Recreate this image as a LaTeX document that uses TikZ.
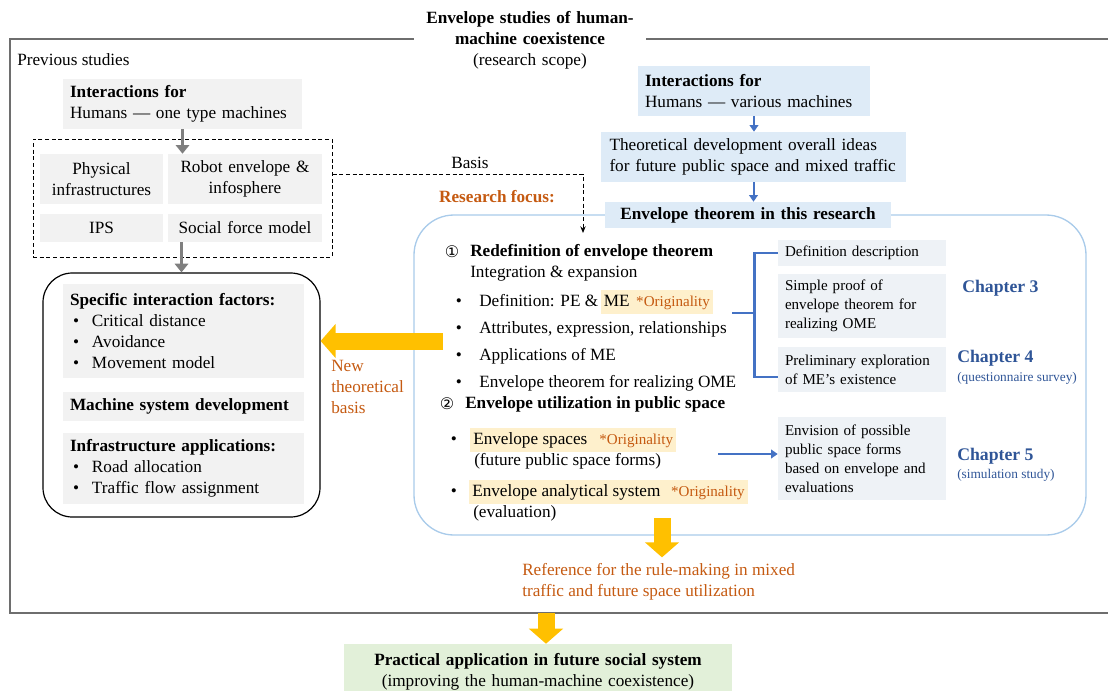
\documentclass[tikz,border=0pt]{standalone}
\usepackage{fontspec}
\setmainfont{Liberation Serif}
\newfontfamily\circfont{DejaVu Sans}
\usetikzlibrary{arrows.meta}

\definecolor{boxgray}{HTML}{F2F2F2}
\definecolor{boxblue}{HTML}{DEEBF7}
\definecolor{boxpale}{HTML}{EEF2F6}
\definecolor{boxgreen}{HTML}{E2F0D9}
\definecolor{hilite}{HTML}{FEF0CC}
\definecolor{accent}{HTML}{C55A11}
\definecolor{chapblue}{HTML}{2F5597}
\definecolor{linkblue}{HTML}{4472C4}
\definecolor{framblue}{HTML}{A9CBEA}
\definecolor{gold}{HTML}{FFC000}
\definecolor{arrowgray}{HTML}{7F7F7F}
\definecolor{framegray}{HTML}{6E6E6E}

% bullet with a small indent, as in the item lists
\newcommand\bitem{\hspace*{2.25pt}\makebox[14.25pt][l]{\textbullet}}
% orange originality tag
\newcommand\origtag[1]{{\fontsize{11.3}{14}\selectfont\color{accent}#1}}

\begin{document}
\begin{tikzpicture}[x=0.75pt,y=-0.75pt,
  txt/.style={font=\fontsize{12.9}{15.75}\selectfont, inner sep=0pt},
  oneline/.style={txt, text height=9.1pt, text depth=2.8pt},
  small/.style={font=\fontsize{11.3}{14.25}\selectfont, inner sep=0pt},
  area/.style n args={4}{at={({(#1+#3)/2},{(#2+#4)/2})},
     minimum width={(#3-#1)*0.75pt}, minimum height={(#4-#2)*0.75pt},
     text width={(#3-#1-14)*0.75pt}, inner xsep=5.25pt, inner ysep=0pt},
  hlbox/.style={oneline, fill=hilite, inner xsep=2.25pt},
  chap/.style={oneline, anchor=west, text=chapblue,
     font=\fontsize{13.3}{15}\selectfont\bfseries},
  chapnote/.style={inner sep=0pt, anchor=west, text=chapblue,
     font=\fontsize{10}{12}\selectfont},
  circnum/.style={inner sep=0pt, font=\circfont\fontsize{12}{14}\selectfont},
  frameline/.style={draw=framegray, line width=1.1pt},
  grayarr/.style={draw=arrowgray, line width=2.4pt,
     -{Triangle[length=6.5pt,width=10pt]}},
  bluearr/.style={draw=linkblue, line width=1.5pt,
     -{Triangle[length=5pt,width=6.5pt]}},
  yarr/.style={draw=gold, line width=12.75pt,
     -{Triangle[length=11.25pt,width=25pt]}},
  dasharr/.style={draw=black, line width=0.75pt, dash pattern=on 3pt off 2pt,
     -{Stealth[length=5pt,width=4pt]}},
  chapterlink/.style={draw=linkblue, line width=1.9pt},
]
\useasboundingbox (0,0) rectangle (1108,690);

% ---------- outer frame of the research scope ----------
\draw[frameline] (1108,39) -- (10,39) -- (10,613) -- (1108,613);
\node[txt, fill=white, area={414}{4}{646}{77}, align=center] (scope)
  {\textbf{Envelope studies of human-}\\\textbf{machine coexistence}\\(research scope)};

% ---------- previous studies ----------
\node[oneline, anchor=west] (prev) at (17,61) {Previous studies};
\node[txt, fill=boxgray, area={63}{79}{302}{129}, align=left] (inter1)
  {\textbf{Interactions for}\\Humans — one type machines};

\node[draw=black, line width=0.75pt, dash pattern=on 3pt off 2pt,
      area={33}{139}{332}{257}] (basisgrp) {};
\node[txt, fill=boxgray, area={40}{154}{163}{204}, align=center] (phys)
  {Physical\\infrastructures};
\node[txt, fill=boxgray, area={168}{154}{322}{204}, align=center] (robot)
  {Robot envelope \&\\infosphere};
\node[txt, fill=boxgray, area={40}{214}{163}{242}, align=center] (ips) {IPS};
\node[txt, fill=boxgray, area={168}{214}{322}{242}, align=center] (sfm)
  {Social force model};
\draw[grayarr] (inter1.south) -- (inter1.south |- phys.north);

\node[draw=black, line width=0.9pt, rounded corners=22pt,
      area={43}{273}{320}{517}] (apps) {};
\draw[grayarr] (apps.north |- sfm.south) -- (apps.north);
\node[txt, fill=boxgray, area={63}{284}{304}{378}, align=left] (factors)
  {\textbf{Specific interaction factors:}\\\bitem Critical distance\\
   \bitem Avoidance\\\bitem Movement model};
\node[txt, fill=boxgray, area={63}{392}{304}{421}, align=left] (msd)
  {\textbf{Machine system development}};
\node[txt, fill=boxgray, area={63}{433}{304}{504}, align=left] (infra)
  {\textbf{Infrastructure applications:}\\\bitem Road allocation\\
   \bitem Traffic flow assignment};

% ---------- this research ----------
\node[draw=framblue, line width=1pt, rounded corners=30pt,
      area={414}{215}{1086}{535}] (focus) {};

\node[txt, fill=boxblue, area={638}{66}{870}{116}, align=left] (inter2)
  {\textbf{Interactions for}\\Humans — various machines};
\node[txt, fill=boxblue, area={601}{132}{906}{182}, inner xsep=6pt,
      text width=216pt, align=left] (theo)
  {Theoretical development overall ideas\\for future public space and mixed traffic};
\node[txt, fill=boxblue, area={605}{202}{891}{228}, align=center] (envthm)
  {\textbf{Envelope theorem in this research}};
\draw[bluearr] (inter2.south) -- (inter2.south |- theo.north);
\draw[bluearr] (theo.south) -- (theo.south |- envthm.north);

% basis link from previous studies
\coordinate (basisend) at (583,233);
\draw[dasharr] (basisgrp.east |- 0,174) -| (basisend);
\node[oneline] (basislbl) at (470,164) {Basis};
\node[oneline, text=accent, font=\fontsize{12.9}{15.75}\selectfont\bfseries]
  (focuslbl) at (497,198) {Research focus:};

% new theoretical basis back to previous studies
\coordinate (ysrc) at (443,341);
\draw[yarr] (ysrc) -- (ysrc -| apps.east);
\node[txt, text=accent, anchor=west, align=left] (newbasis) at (331,387)
  {New\\theoretical\\basis};

% part 1: redefinition
\node[circnum] (c1) at (452,252) {①};
\node[oneline, anchor=west] (redef) at (470,252)
  {\textbf{Redefinition of envelope theorem}};
\node[oneline, anchor=west] (integ) at (470,273) {Integration \& expansion};

\node[oneline] (b1) at (459,302) {\textbullet};
\node[oneline, anchor=west] (t1) at (479,302) {Definition: PE \&};
\node[hlbox, inner ysep=3.4pt, anchor=west] (h1) at ([xshift=1.5pt]t1.east)
  {ME\hspace{5pt}\origtag{*Originality}};
\node[oneline] (b2) at (459,329) {\textbullet};
\node[oneline, anchor=west] (t2) at (479,329) {Attributes, expression, relationships};
\node[oneline] (b3) at (459,356) {\textbullet};
\node[oneline, anchor=west] (t3) at (479,356) {Applications of ME};
\node[oneline] (b4) at (459,383) {\textbullet};
\node[oneline, anchor=west] (t4) at (479,383) {Envelope theorem for realizing OME};

% part 2: utilization
\node[circnum] (c2) at (447,404) {②};
\node[oneline, anchor=west] (util) at (465,404)
  {\textbf{Envelope utilization in public space}};
\node[oneline] (b5) at (454,440) {\textbullet};
\node[hlbox, inner ysep=2.7pt, anchor=west] (h2) at (470,440)
  {Envelope spaces\hspace{9pt}\origtag{*Originality}};
\node[oneline, anchor=west] (t5) at (474,461) {(future public space forms)};
\node[oneline] (b6) at (454,492) {\textbullet};
\node[hlbox, inner ysep=3.1pt, anchor=west] (h3) at (469,492)
  {Envelope analytical system\hspace{8pt}\origtag{*Originality}};
\node[oneline, anchor=west] (t6) at (473,513) {(evaluation)};

% chapter boxes
\node[small, fill=boxpale, area={778}{240}{946}{266}, align=left] (def)
  {Definition description};
\node[small, fill=boxpale, area={778}{274}{946}{338}, align=left] (proof)
  {Simple proof of\\envelope theorem for\\realizing OME};
\node[small, fill=boxpale, area={778}{347}{946}{392}, align=left] (prelim)
  {Preliminary exploration\\of ME’s existence};
\node[small, fill=boxpale, area={778}{417}{946}{500}, align=left] (envis)
  {Envision of possible\\public space forms\\based on envelope and\\evaluations};

\coordinate (brk) at (732,313);
\draw[chapterlink] (def.west) -- ++(-23,0) coordinate (bk)
  -- (bk |- 0,377) -- (prelim.west |- 0,377);
\draw[chapterlink] (brk) -- (brk -| bk);
\coordinate (esrc) at (718,454);
\draw[bluearr] (esrc) -- (esrc -| envis.west);

\node[chap] (ch3) at (962,288) {Chapter 3};
\node[chap] (ch4) at (957,358) {Chapter 4};
\node[chapnote] (ch4n) at (957,378) {(questionnaire survey)};
\node[chap] (ch5) at (957,456) {Chapter 5};
\node[chapnote] (ch5n) at (957,475) {(simulation study)};

% ---------- outcome ----------
\node[txt, text=accent, anchor=west, align=left] (ref) at (522,582)
  {Reference for the rule-making in mixed\\traffic and future space utilization};
\coordinate (ysrc2) at (662,518);
\draw[yarr, shorten >=4.5pt] (ysrc2) -- (ysrc2 |- ref.north);

\node[txt, fill=boxgreen, area={344}{644}{732}{700}, align=center] (green)
  {\textbf{Practical application in future social system}\\(improving the human-machine coexistence)};
\coordinate (ysrc3) at (546,613);
\draw[yarr] (ysrc3) -- (ysrc3 |- green.north);
\end{tikzpicture}
\end{document}
